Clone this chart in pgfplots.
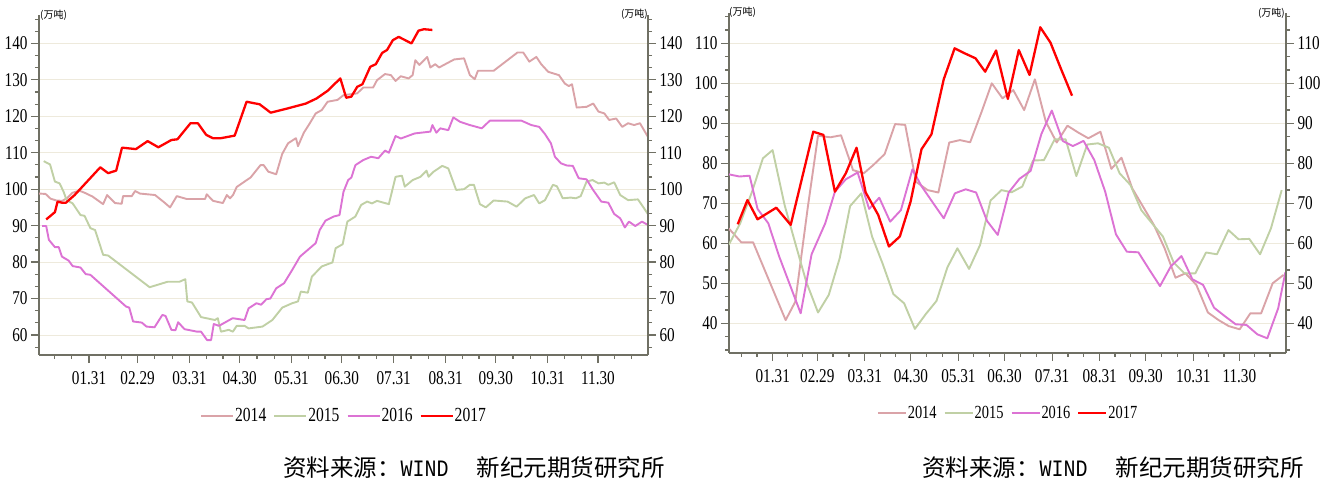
\documentclass[border=0pt]{standalone}
\usepackage{fontspec}
\setmainfont{Liberation Serif}[FakeStretch=0.78]
\newfontfamily\cjk{Noto Sans CJK SC}
\newfontfamily\mono{Liberation Mono}[FakeStretch=0.85]
\usepackage{pgfplots}
\pgfplotsset{compat=1.18}
\definecolor{c14}{RGB}{218,163,168}
\definecolor{c15}{RGB}{192,208,165}
\definecolor{c16}{RGB}{220,115,212}
\definecolor{c17}{RGB}{255,0,0}
\definecolor{axcol}{RGB}{112,112,100}
\definecolor{gridcol}{RGB}{238,234,220}
\newcommand{\tickfont}{\fontsize{19.5}{20}\selectfont}
\pgfplotsset{
  base/.style={
    scale only axis,
    axis line style={draw=axcol, line width=1.6pt},
    tick style={draw=axcol, line width=1.2pt},
    tick align=outside,
    major tick length=8pt, minor tick length=4pt,
    tick label style={font=\tickfont},
    xticklabel style={yshift=-5pt},
    /pgf/number format/assume math mode=true,
    xtick={31,60,91,121,152,182,213,244,274,305,335},
    xticklabels={01.31,02.29,03.31,04.30,05.31,06.30,07.31,08.31,09.30,10.31,11.30},
    minor xtick={10.5,20.7,40.7,50.3,70.3,80.7,101,111,131.3,141.7,162,172,192.3,202.7,223.3,233.7,254,264,284.3,294.7,315,325,345,355},
    clip=true,
  },
  ser14/.style={draw=c14, line width=1.9pt, line join=round, no markers},
  ser15/.style={draw=c15, line width=1.9pt, line join=round, no markers},
  ser16/.style={draw=c16, line width=1.9pt, line join=round, no markers},
  ser17/.style={draw=c17, line width=2.3pt, line join=round, no markers},
}
\begin{document}
\begin{tikzpicture}
\path[use as bounding box] (0pt,0pt) rectangle (1331pt,480pt);
% ================= LEFT CHART =================
\begin{axis}[base,
  at={(39pt,125pt)}, anchor=south west,
  width=609pt, height=340pt,
  xmin=1.1, xmax=364.9, ymin=54.5, ymax=147.8,
  axis x line*=bottom, axis y line*=left,
  ytick={60,70,80,90,100,110,120,130,140},
  minor ytick={56.667,63.333,66.667,73.333,76.667,83.333,86.667,93.333,96.667,103.333,106.667,113.333,116.667,123.333,126.667,133.333,136.667,143.333,146.667},
  ymajorgrids, major grid style={draw=gridcol, line width=0.9pt},
  legend style={at={(0.5,-0.179)}, anchor=center, draw=none, fill=none,
    legend columns=4, font=\fontsize{20}{21}\selectfont,
    /tikz/every even column/.append style={column sep=6pt},
    nodes={inner sep=1pt}},
  legend image code/.code={\draw[#1, line width=2pt] (0pt,0pt) -- (32pt,0pt);},
]
\addplot[ser14] coordinates {(1.2,98.8) (5,98.7) (8,97.4) (11.5,96.9) (15,96.8) (18,97.6) (21,99) (25,99.6) (28,99.1) (33,98) (39.4,95.9) (41.8,98.4) (46.5,96.2) (50.5,96) (51.3,98.1) (56.5,98.1) (58.5,99.5) (61.4,98.8) (70.4,98.4) (75.6,96.5) (79.4,95) (83.4,98.1) (89.4,97.3) (100.3,97.3) (101.3,98.6) (105.1,96.8) (110.9,96.2) (113.3,98.4) (115.2,97.5) (117,98.4) (119.2,100.6) (125.2,102.5) (127.5,103.2) (133.4,106.6) (135.3,106.6) (138.1,104.8) (142.8,104.1) (146.4,109.7) (149.9,112.6) (154.6,114) (155.8,111.8) (159.3,115.5) (162.9,118.1) (166.4,120.8) (170,121.7) (173.5,124) (179.4,124.5) (183,125.8) (191.2,126.3) (194.8,127.9) (200.7,127.9) (203,129.9) (207.8,131.6) (211.3,131.3) (214.1,129.7) (217.2,131) (221.9,130.4) (224.3,131.3) (225.9,135.4) (228.3,134.1) (233,136.3) (234.9,133.4) (237.8,134.3) (240.1,133.4) (249.1,135.6) (255,135.9) (258.5,131.3) (261.4,130.2) (263.3,132.5) (272.7,132.5) (286.9,137.5) (290.4,137.5) (294,135) (298.2,136.3) (301.1,134.3) (305.3,132.2) (311.7,131.3) (315.2,129) (317.6,128.3) (319.5,128.8) (322.3,122.4) (328.2,122.6) (332.2,123.5) (335.3,121.3) (338.8,120.8) (341.7,119) (345.9,119.4) (349.5,117.1) (353,118.1) (356.6,117.6) (360.1,118.1) (364.8,114.4)};
\addlegendentry{2014}
\addplot[ser15] coordinates {(3.9,107.7) (7.7,106.8) (10.6,102.1) (13.4,101.6) (15.8,99.3) (17.6,97) (21.2,96.1) (25.9,92.9) (28.3,92.7) (31.8,89.3) (34.6,88.8) (39.4,82) (42.4,81.8) (67.2,73.1) (77.9,74.6) (85,74.6) (88.5,75.3) (89.7,69.2) (92.5,68.9) (97.9,64.9) (106.2,64.1) (107.9,64.6) (109.8,60.9) (114.5,61.4) (116.9,60.9) (119.2,62.5) (123.9,62.5) (126.3,61.8) (134.6,62.3) (140.5,64.1) (146.4,67.5) (152.3,68.7) (155.8,69.2) (157.5,71.9) (161.7,71.6) (164.1,76) (170,78.8) (176.4,79.9) (178.3,83.8) (182.5,84.9) (185.3,91.1) (190.1,92.5) (193.6,95.7) (197.1,96.6) (200,96.1) (203,96.8) (210.1,95.9) (214.1,103.4) (217.9,103.7) (219.6,100.7) (224.3,102.5) (229,103.4) (232.6,105.1) (233.8,103.4) (236.8,104.8) (242,106.4) (245.6,105.7) (250.3,99.8) (255,100) (258.5,101.2) (260.9,101.2) (264.5,95.9) (268,95) (272.7,96.9) (281,96.6) (286.4,95.2) (291.6,97.5) (296.8,98.4) (299.9,96.1) (303.4,97) (308.1,101.2) (310.5,100.8) (314,97.5) (318.7,97.7) (321.8,97.5) (324.7,98.1) (328.2,102.1) (331.8,102.5) (335.3,101.6) (338.8,101.8) (341.2,101.2) (344.7,101.9) (348.3,98.4) (353,97) (358.9,97.2) (362.5,94.8) (364.8,93.2)};
\addlegendentry{2015}
\addplot[ser16] coordinates {(3,89.9) (5.4,89.9) (7,86.1) (10.6,84.1) (12.9,84.1) (14.8,81.5) (18.8,80.4) (21.2,78.9) (25.9,78.5) (29,76.7) (31.8,76.5) (53.1,67.8) (55,67.5) (57.3,63.7) (62.5,63.4) (65.3,62.3) (70.1,62.1) (74.8,65.5) (76.7,65.2) (80.2,61.4) (82.6,61.3) (84.2,63.5) (88,61.6) (95.6,60.9) (97.9,60.9) (101.5,58.6) (103.9,58.6) (105.5,63) (108.6,62.5) (112.1,63.4) (116.8,64.6) (123.9,64.1) (126.3,67.3) (131,68.7) (133.8,68.3) (136.9,69.8) (139.3,70) (142.8,72.8) (147.5,74.2) (152.3,77.8) (157,81.5) (166.4,85.2) (168.8,88.8) (172.3,91.4) (177.1,92.5) (180.6,92.9) (183,99.3) (185.8,102.5) (187.7,103.2) (190.1,106.6) (194.8,108) (199.5,108.9) (203.8,108.5) (207.8,110.6) (210.1,110) (214.1,114.6) (217.2,113.9) (225.5,115.3) (234.9,115.8) (236.1,117.6) (238.5,115.5) (240.8,116.7) (245.6,116.2) (248.6,119.7) (252.6,118.5) (258.5,117.6) (265.6,116.7) (270.4,118.8) (289.3,118.8) (295.2,117.6) (299.9,117.1) (303.4,115.1) (306.9,112.6) (309.3,108.9) (312.9,107.1) (316.4,106.5) (320,106.4) (323.5,103) (328.2,102.7) (331.8,100) (337,96.6) (341.2,96.3) (344.7,93.2) (348.3,92) (351.1,89.5) (353.5,91.1) (357.3,89.9) (361.3,91.1) (364.8,90.2)};
\addlegendentry{2016}
\addplot[ser17] coordinates {(5.4,91.7) (10.6,93.7) (12.2,96.6) (14.8,96.3) (17.2,96.3) (22.4,98.4) (37.7,106) (42.4,104.4) (47.2,105.1) (50.7,111.4) (59,111) (66,113.2) (72.4,111.5) (80.2,113.5) (83.8,113.7) (91.6,118.1) (96,118.1) (101,114.9) (105,114) (109.8,114) (118,114.7) (125.1,124) (132.9,123.3) (139.5,121) (149.9,122.2) (160.5,123.5) (166.9,124.9) (173.5,127) (181.1,130.4) (184.6,125.1) (187.7,125.4) (191.2,128.1) (194.3,128.8) (199,133.6) (202.3,134.3) (206.1,137.4) (209,138.2) (212.5,140.9) (216,141.8) (223.6,140) (227.8,143.5) (231,143.9) (236.1,143.7)};
\addlegendentry{2017}
\end{axis}
\begin{axis}[base,
  at={(39pt,125pt)}, anchor=south west,
  width=609pt, height=340pt,
  xmin=1.1, xmax=364.9, ymin=54.5, ymax=147.8,
  axis x line=none, axis y line*=right,
  ytick={60,70,80,90,100,110,120,130,140},
  minor ytick={56.667,63.333,66.667,73.333,76.667,83.333,86.667,93.333,96.667,103.333,106.667,113.333,116.667,123.333,126.667,133.333,136.667,143.333,146.667},
]
\addplot[draw=none, forget plot] coordinates {(100,100)};
\end{axis}
% ================= RIGHT CHART =================
\begin{axis}[base,
  at={(729pt,127.3pt)}, anchor=south west,
  width=557pt, height=339.4pt,
  xmin=2.5, xmax=365.4, ymin=32.65, ymax=117.5,
  axis x line*=bottom, axis y line*=left,
  ytick={40,50,60,70,80,90,100,110},
  minor ytick={33.333,36.667,43.333,46.667,53.333,56.667,63.333,66.667,73.333,76.667,83.333,86.667,93.333,96.667,103.333,106.667,113.333,116.667},
  ymajorgrids, major grid style={draw=gridcol, line width=0.9pt},
  legend style={at={(0.5,-0.178)}, anchor=center, draw=none, fill=none,
    legend columns=4, font=\fontsize{18.5}{19}\selectfont,
    /tikz/every even column/.append style={column sep=6pt},
    nodes={inner sep=1pt}},
  legend image code/.code={\draw[#1, line width=2pt] (0pt,0pt) -- (28pt,0pt);},
]
\addplot[ser14] coordinates {(2.3,63.75) (10.5,60.25) (18.2,60.25) (39.4,40.8) (45.7,45.4) (53.9,69.2) (60.5,86.9) (68.5,86.5) (75.5,87) (83.3,78.3) (90.3,77.5) (96.6,79.6) (103.9,82.3) (110.7,89.8) (117.3,89.6) (124.3,75.4) (131.9,73.3) (138.9,72.7) (146,85.2) (153,85.8) (159.6,85.25) (167.1,92.9) (173.7,100) (180.7,96.25) (187.7,98.3) (194.8,93.3) (201.8,101) (208.9,90.4) (216,85.2) (223,89.4) (230,87.7) (236.6,86.25) (244.5,87.9) (251.6,78.6) (258.2,81.4) (265.2,73.75) (272.2,69.2) (279.3,64.6) (286.3,58.75) (293.4,51.4) (299.9,52.5) (307,49.6) (314.5,42.7) (321.5,40.8) (328.1,39.3) (335.2,38.5) (342.2,42.5) (349.2,42.5) (356.7,50) (363.8,52.1)};
\addlegendentry{2014}
\addplot[ser15] coordinates {(2.3,59.6) (9.8,65) (17.5,72.9) (24.6,81.25) (30.9,83.3) (38.7,69.6) (45.7,60) (52.8,50.4) (60.5,42.7) (67.5,47.1) (74.6,56.25) (81.4,69.3) (88.7,72.5) (95.7,61.7) (102.5,55) (109.6,47.3) (116.6,45) (123.6,38.6) (130.7,42.3) (137.7,45.6) (144.8,54) (151.3,58.75) (158.9,53.6) (166.1,59.6) (172.9,70.7) (180,73.3) (186.6,72.75) (193.6,74.2) (200.6,80.7) (207.7,80.8) (214.7,86) (221.8,86) (228.8,76.8) (235.9,84.7) (242.9,85) (250,83.9) (257,77.5) (264,74.6) (271.1,68.3) (278.1,65) (285.2,61.7) (292.2,55.2) (299.2,52.5) (306.3,52.5) (313.3,57.7) (320.4,57.25) (327.9,63.3) (334.5,61) (341.5,61.1) (348.5,57.25) (355.6,63.75) (362.6,73.3)};
\addlegendentry{2015}
\addplot[ser16] coordinates {(2.3,77.25) (9.3,76.7) (15.9,76.9) (21.1,68.6) (28.1,65) (35.2,56.7) (42.2,49.6) (49.2,42.5) (56.3,57.25) (65.2,65) (71.5,72.9) (78.6,76) (86.3,77.7) (93.8,68.6) (100.4,71.4) (107.5,65.4) (114.5,68.3) (122,78.5) (127.9,74.3) (135.6,70) (142.4,66.25) (149.7,72.5) (156.7,73.5) (163.5,72.7) (170.6,65.6) (177.6,62.1) (184.7,72.7) (191.7,76.1) (199,78.1) (206,87.3) (212.8,93.2) (219.9,85.6) (226.5,84.3) (233.5,85.6) (240.5,80.8) (247.6,72.9) (254.6,62.25) (261.7,57.9) (269.2,57.75) (276.2,53.5) (283.3,49.3) (290.3,54.2) (297.3,56.8) (304.4,51) (311.4,49.6) (318.5,43.9) (325.5,41.8) (332.6,39.75) (339.6,39.6) (346.7,37.25) (353.2,36.25) (360.3,43.75) (365,52.75)};
\addlegendentry{2016}
\addplot[ser17] coordinates {(8.2,64.75) (14.5,70.8) (21.1,66) (33.3,68.9) (42.7,64.6) (57.4,87.9) (64,87.1) (71.5,72.9) (78.6,77.5) (85.6,83.9) (91.5,72.75) (99.7,67.1) (106.7,59.2) (113.8,61.7) (120.8,70.4) (127.9,83.5) (134.4,87.25) (142.4,101) (149.5,108.75) (156,107.5) (163.1,106.25) (169.4,102.9) (176.5,108.2) (184.2,96.1) (191.3,108.3) (198.3,102.1) (205.3,114) (211.9,110.2) (218.9,103.5) (226,96.9)};
\addlegendentry{2017}
\end{axis}
\begin{axis}[base,
  at={(729pt,127.3pt)}, anchor=south west,
  width=557pt, height=339.4pt,
  xmin=2.5, xmax=365.4, ymin=32.65, ymax=117.5,
  axis x line=none, axis y line*=right,
  ytick={40,50,60,70,80,90,100,110},
  minor ytick={33.333,36.667,43.333,46.667,53.333,56.667,63.333,66.667,73.333,76.667,83.333,86.667,93.333,96.667,103.333,106.667,113.333,116.667},
]
\addplot[draw=none, forget plot] coordinates {(100,100)};
\end{axis}
% ================= TEXT =================
\node[anchor=west, inner sep=0pt, font=\cjk\fontsize{10}{11}\selectfont] at (40pt,465pt) {(万吨)};
\node[anchor=east, inner sep=0pt, font=\cjk\fontsize{10}{11}\selectfont] at (648pt,466pt) {(万吨)};
\node[anchor=west, inner sep=0pt, font=\cjk\fontsize{10}{11}\selectfont] at (729pt,467.5pt) {(万吨)};
\node[anchor=east, inner sep=0pt, font=\cjk\fontsize{10}{11}\selectfont] at (1285pt,467pt) {(万吨)};
\node[anchor=west, inner sep=0pt, font=\fontsize{23.5}{24}\selectfont] at (283pt,12pt) {{\cjk 资料来源：}{\mono WIND}\hspace{28pt}{\cjk 新纪元期货研究所}};
\node[anchor=west, inner sep=0pt, font=\fontsize{23.5}{24}\selectfont] at (922pt,12pt) {{\cjk 资料来源：}{\mono WIND}\hspace{28pt}{\cjk 新纪元期货研究所}};
\end{tikzpicture}
\end{document}
